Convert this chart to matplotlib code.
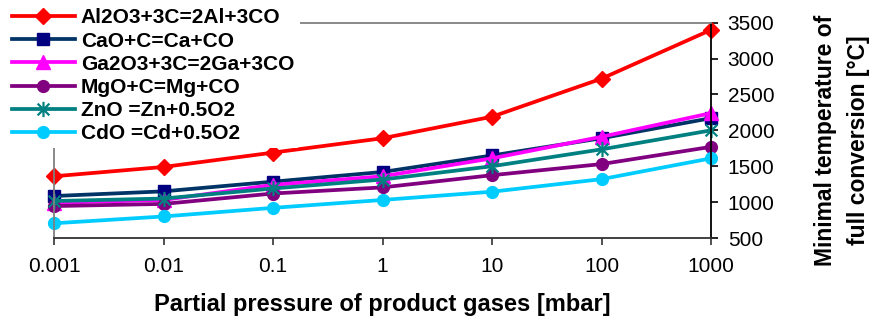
import matplotlib
matplotlib.use("Agg")
import matplotlib.pyplot as plt
from matplotlib.path import Path
import numpy as np

plt.rcParams['font.family'] = ['Liberation Sans', 'DejaVu Sans']

pressures = ["0.001", "0.01", "0.1", "1", "10", "100", "1000"]
series_labels = [
    "Al2O3+3C=2Al+3CO",
    "CaO+C=Ca+CO",
    "Ga2O3+3C=2Ga+3CO",
    "MgO+C=Mg+CO",
    "ZnO =Zn+0.5O2",
    "CdO =Cd+0.5O2",
]
al2o3 = [1360, 1490, 1690, 1890, 2190, 2720, 3400]
cao = [1085, 1150, 1285, 1420, 1650, 1890, 2170]
ga2o3 = [990, 1030, 1240, 1360, 1610, 1910, 2240]
mgo = [945, 975, 1120, 1205, 1375, 1530, 1770]
zno = [1015, 1050, 1190, 1315, 1500, 1735, 2000]
cdo = [705, 800, 920, 1030, 1145, 1320, 1610]
y_ticks = [500, 1000, 1500, 2000, 2500, 3000, 3500]

# asterisk marker: an X plus a vertical bar
star = Path([(-1, -1), (1, 1), (-1, 1), (1, -1), (0, -1.3), (0, 1.3)],
            [Path.MOVETO, Path.LINETO, Path.MOVETO, Path.LINETO,
             Path.MOVETO, Path.LINETO])

styles = [
    dict(color="#FF0000", marker="D", mfc="#FF0000", mec="#FF0000", ms=8),
    dict(color="#003366", marker="s", mfc="#000080", mec="#000080", ms=8),
    dict(color="#FF00FF", marker="^", mfc="#FF00FF", mec="#FF00FF", ms=10),
    dict(color="#800080", marker="o", mfc="#800080", mec="#800080", ms=8.5),
    dict(color="#008080", marker=star, mfc="none", mec="#008080", ms=11, mew=1.6),
    dict(color="#00CCFF", marker="o", mfc="#00CCFF", mec="#00CCFF", ms=8.5),
]

fig = plt.figure(figsize=(8.72, 3.25), dpi=100)
ax = fig.add_axes([54 / 872, 1 - 238 / 325, (711 - 54) / 872, (238 - 22.7) / 325])

x = np.arange(len(pressures))
for vals, lab, st in zip([al2o3, cao, ga2o3, mgo, zno, cdo], series_labels, styles):
    ax.plot(x, vals, lw=2.7, label=lab, clip_on=False, **st)

ax.set_xlim(0, len(pressures) - 1)
ax.set_xticks(x)
ax.set_xticklabels(pressures)
ax.set_ylim(500, 3500)
ax.set_yticks(y_ticks)
ax.yaxis.tick_right()

ax.tick_params(axis='x', direction='out', length=5, width=1.2, pad=9,
               labelsize=15, color='#333333')
ax.tick_params(axis='y', direction='out', length=5, width=1.2, pad=7,
               labelsize=15, color='#000000')

ax.spines['top'].set_color('#808080')
ax.spines['left'].set_color('#808080')
ax.spines['bottom'].set_color('#333333')
ax.spines['right'].set_color('#000000')
for s in ax.spines.values():
    s.set_linewidth(1.3)

ax.set_xlabel("Partial pressure of product gases [mbar]", fontsize=17,
              fontweight='bold', labelpad=12)

fig.text(842 / 872, 1 - 140 / 325, "Minimal temperature of\nfull conversion [°C]",
         rotation=90, ha='center', va='center', multialignment='center',
         fontsize=16.5, fontweight='bold', linespacing=1.55)

leg = fig.legend(loc='upper left', bbox_to_anchor=(0.008, 0.99), frameon=True,
                 prop={'weight': 'bold', 'size': 15},
                 handlelength=3.0, handletextpad=0.3, labelspacing=0.2,
                 borderpad=0.25, borderaxespad=0.0)
leg.get_frame().set_facecolor('white')
leg.get_frame().set_edgecolor('none')
leg.get_frame().set_alpha(1.0)
leg.set_zorder(10)

fig.savefig("out.png", dpi=100)
